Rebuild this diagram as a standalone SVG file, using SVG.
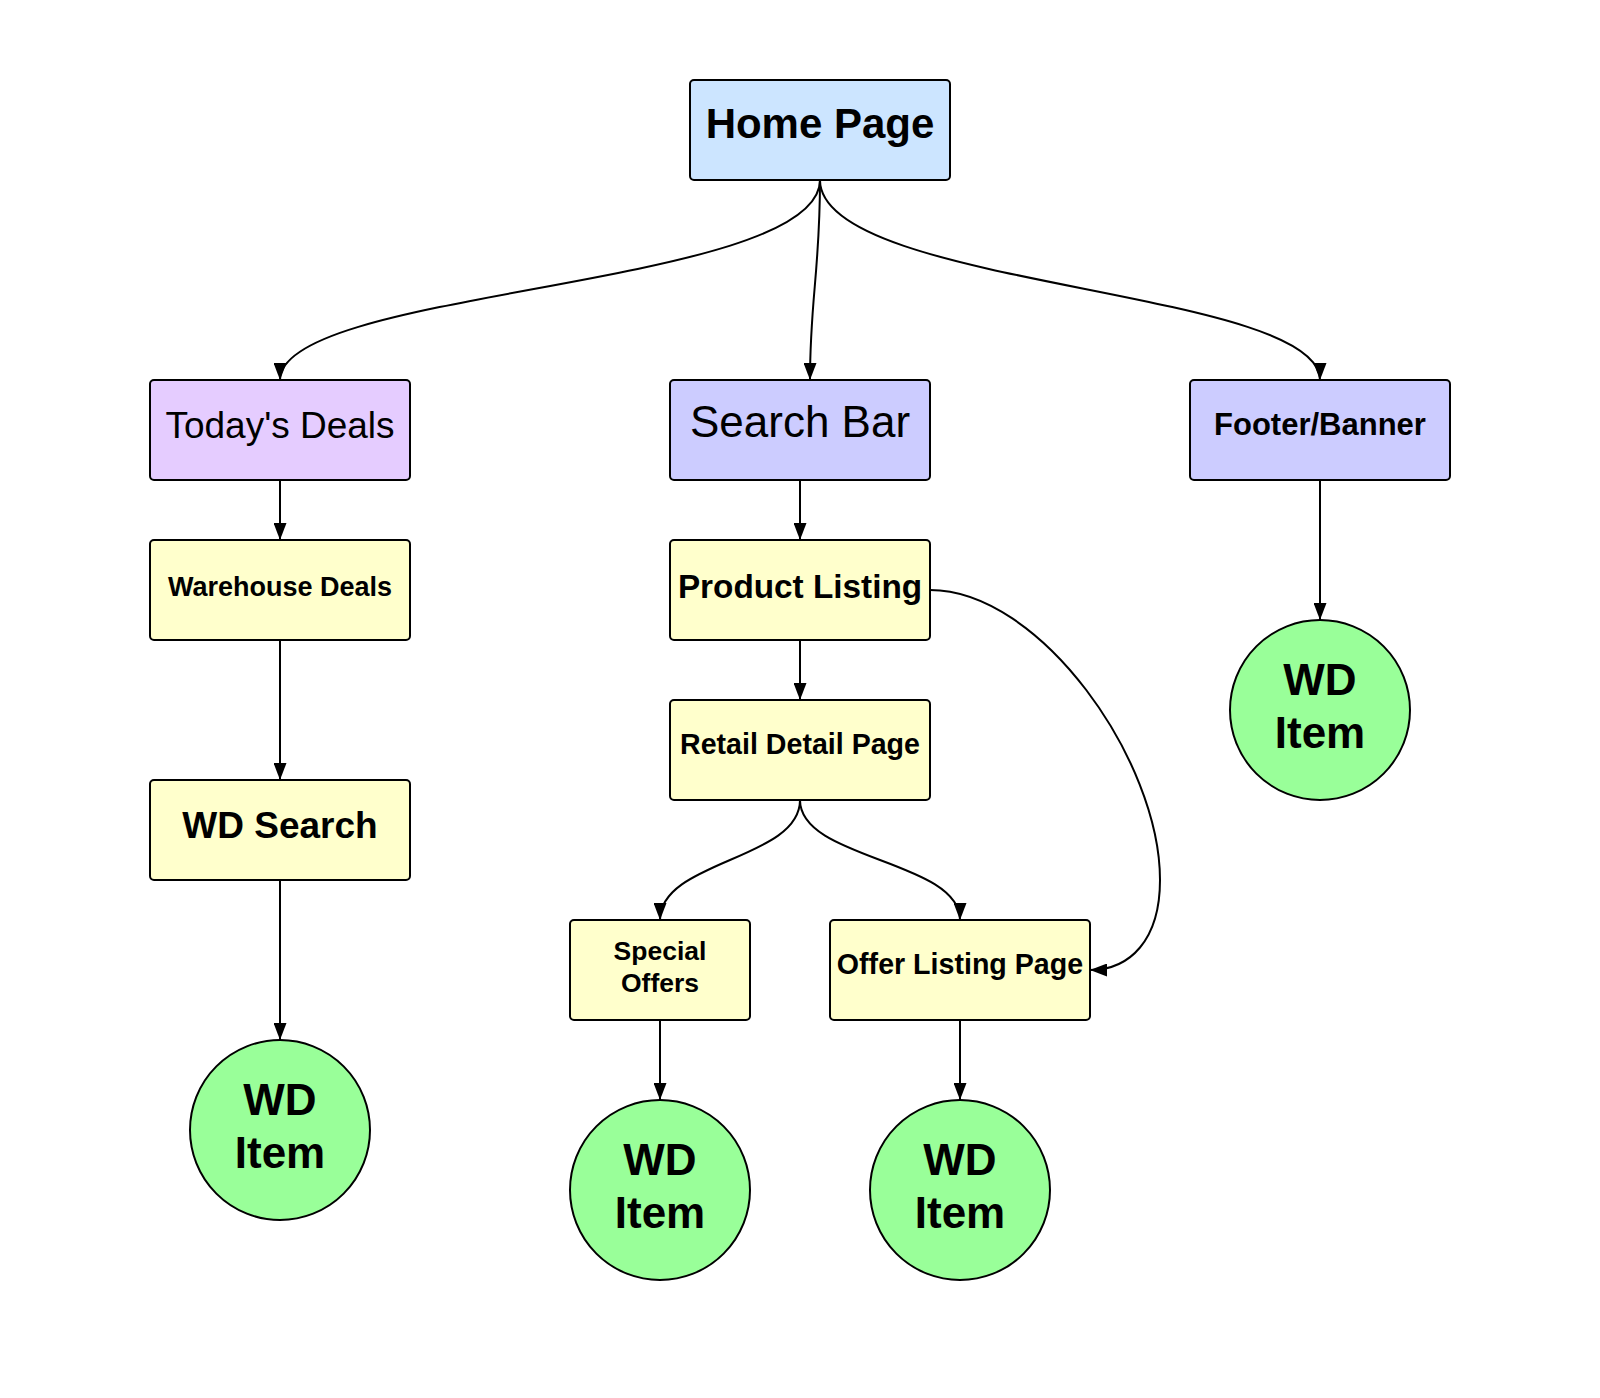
<svg xmlns="http://www.w3.org/2000/svg" width="1600" height="1398" viewBox="0 0 1600 1398">
<style>
  .box { stroke:#000; stroke-width:2; }
  .blue { fill:#cce5ff; }
  .purple { fill:#e5ccff; }
  .lav { fill:#ccccff; }
  .yel { fill:#ffffcc; }
  .grn { fill:#99ff99; }
  text { font-family:"Liberation Sans", Arial, sans-serif; fill:#000; text-anchor:middle; }
  .b { font-weight:bold; }
  .wd { font-weight:bold; font-size:44px; }
  .edge { fill:none; stroke:#000; stroke-width:2; marker-end:url(#arr); }
</style>
<defs>
  <marker id="arr" markerUnits="userSpaceOnUse" markerWidth="17" markerHeight="13" refX="17" refY="6.5" orient="auto">
    <path d="M0,0 L17,6.5 L0,13 z" fill="#000"/>
  </marker>
</defs>
<rect width="1600" height="1398" fill="#fff"/>
<g id="connectors">
  <path class="edge" d="M820,180 C820,288 280,288 280,380"/>
  <path class="edge" d="M820,180 C820,270 810,300 810,380"/>
  <path class="edge" d="M820,180 C820,288 1320,288 1320,380"/>
  <path class="edge" d="M280,480 L280,540"/>
  <path class="edge" d="M280,640 L280,780"/>
  <path class="edge" d="M280,880 L280,1040"/>
  <path class="edge" d="M800,480 L800,540"/>
  <path class="edge" d="M800,640 L800,700"/>
  <path class="edge" d="M800,800 C800,860 660,860 660,920"/>
  <path class="edge" d="M800,800 C800,860 960,860 960,920"/>
  <path class="edge" d="M930,590 C1040,590 1160,760 1160,880 C1160,940 1130,970 1090,970"/>
  <path class="edge" d="M1320,480 L1320,620"/>
  <path class="edge" d="M660,1020 L660,1100"/>
  <path class="edge" d="M960,1020 L960,1100"/>
</g>
<g id="home">
  <rect class="box blue" x="690" y="80" width="260" height="100" rx="4"/>
  <text class="b" x="820" y="138" font-size="42">Home Page</text>
</g>
<g id="todays-deals">
  <rect class="box purple" x="150" y="380" width="260" height="100" rx="4"/>
  <text x="280" y="438" font-size="37">Today's Deals</text>
</g>
<g id="search-bar">
  <rect class="box lav" x="670" y="380" width="260" height="100" rx="4"/>
  <text x="800" y="437" font-size="44">Search Bar</text>
</g>
<g id="footer-banner">
  <rect class="box lav" x="1190" y="380" width="260" height="100" rx="4"/>
  <text class="b" x="1320" y="435" font-size="31">Footer/Banner</text>
</g>
<g id="warehouse-deals">
  <rect class="box yel" x="150" y="540" width="260" height="100" rx="4"/>
  <text class="b" x="280" y="596" font-size="27">Warehouse Deals</text>
</g>
<g id="product-listing">
  <rect class="box yel" x="670" y="540" width="260" height="100" rx="4"/>
  <text class="b" x="800" y="598" font-size="33.3">Product Listing</text>
</g>
<g id="retail-detail">
  <rect class="box yel" x="670" y="700" width="260" height="100" rx="4"/>
  <text class="b" x="800" y="754" font-size="28.6">Retail Detail Page</text>
</g>
<g id="wd-search">
  <rect class="box yel" x="150" y="780" width="260" height="100" rx="4"/>
  <text class="b" x="280" y="838" font-size="37">WD Search</text>
</g>
<g id="special-offers">
  <rect class="box yel" x="570" y="920" width="180" height="100" rx="4"/>
  <text class="b" x="660" y="960" font-size="26.5">Special</text>
  <text class="b" x="660" y="992" font-size="26.5">Offers</text>
</g>
<g id="offer-listing">
  <rect class="box yel" x="830" y="920" width="260" height="100" rx="4"/>
  <text class="b" x="960" y="974" font-size="28.6">Offer Listing Page</text>
</g>
<g id="wd-item-footer">
  <circle class="box grn" cx="1320" cy="710" r="90"/>
  <text class="wd" x="1320" y="695">WD</text>
  <text class="wd" x="1320" y="748">Item</text>
</g>
<g id="wd-item-search">
  <circle class="box grn" cx="280" cy="1130" r="90"/>
  <text class="wd" x="280" y="1115">WD</text>
  <text class="wd" x="280" y="1168">Item</text>
</g>
<g id="wd-item-special">
  <circle class="box grn" cx="660" cy="1190" r="90"/>
  <text class="wd" x="660" y="1175">WD</text>
  <text class="wd" x="660" y="1228">Item</text>
</g>
<g id="wd-item-offer">
  <circle class="box grn" cx="960" cy="1190" r="90"/>
  <text class="wd" x="960" y="1175">WD</text>
  <text class="wd" x="960" y="1228">Item</text>
</g>
</svg>
